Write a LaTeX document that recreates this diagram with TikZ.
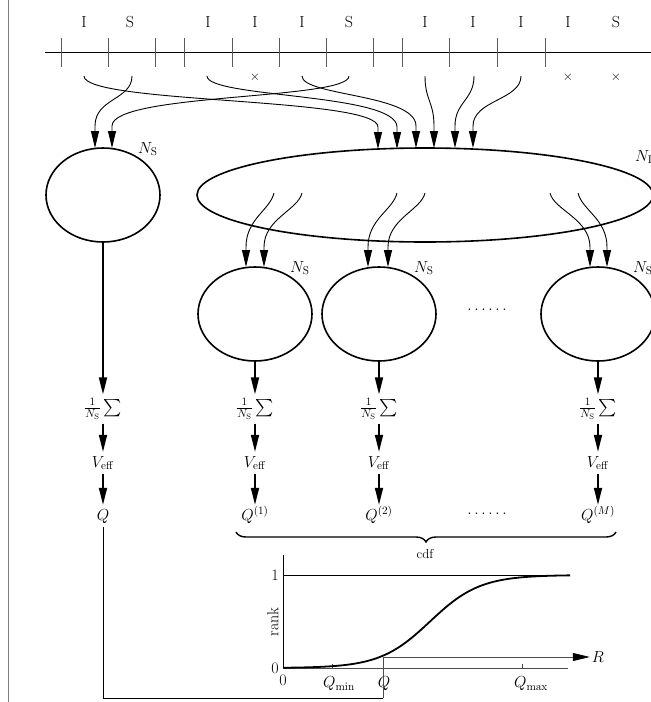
\RequirePackage{fix-cm}
\documentclass[tikz,border=0pt]{standalone}
\usepackage{exscale}
\usetikzlibrary{arrows.meta,shapes.geometric,decorations.pathreplacing,calc}
\begin{document}
\begin{tikzpicture}[x=1pt,y=-1pt,
  font=\fontsize{16}{19}\selectfont,
  ball/.style={ellipse, draw, line width=1.6pt, minimum width=114pt, minimum height=94pt, inner sep=0pt},
  conn/.style={line width=0.9pt, -{Triangle[length=17pt,width=8pt]}},
  flow/.style={line width=1.7pt, -{Triangle[length=17pt,width=8pt]}},
  tickline/.style={gray!70!black, line width=0.8pt},
  sumrow/.style={inner sep=4pt},
  vrow/.style={inner sep=4pt, text height=11pt, text depth=3pt},
  qrow/.style={inner sep=4pt, text height=11pt, text depth=3pt},
  nlab/.style={anchor=south west, inner sep=0.5pt},
  thinline/.style={gray!60!black, line width=0.7pt}]
\useasboundingbox (0,0) rectangle (651,702);
\clip (0,0) rectangle (651,702);

% left border
\draw[gray, line width=0.8pt] (8,0) -- (8,702);

% top axis with ticks and labels
\draw[line width=1pt] (45,52) -- (651,52);
\foreach \x in {61,108,155,184,232,279,326,373,402,449,497,545}
  \draw[tickline] (\x,38) -- (\x,67);
\foreach \x/\t [count=\i] in {84/I,130/S,208/I,255/I,302/I,349/S,425/I,473/I,521/I,568/I,616/S}
  \node (top\i) at (\x,22) {\t};
\foreach \x [count=\i] in {255,568,616}
  \node[font=\fontsize{13}{15}\selectfont] (cross\i) at (\x,77) {$\times$};

% sources below the axis
\coordinate (s1) at (84,76);
\coordinate (s2) at (132,76);
\coordinate (s3) at (207,76);
\coordinate (s4) at (302,76);
\coordinate (s5) at (349,76);
\coordinate (s6) at (425,76);
\coordinate (s7) at (474,76);
\coordinate (s8) at (521,76);

% ensembles
\node[ball] (c0) at (103,195) {};
\node[ellipse, draw, line width=1.6pt, minimum width=456pt, minimum height=94pt, inner sep=0pt] (big) at (425,195) {};
\node[ball] (c1) at (255,314) {};
\node[ball] (c2) at (379,314) {};
\node[ball] (c3) at (598,314) {};

\node[nlab] (n0) at (c0.48) {$N_{\rm S}$};
\node[nlab] (n1) at (c1.48) {$N_{\rm S}$};
\node[nlab] (n2) at (c2.48) {$N_{\rm S}$};
\node[nlab] (n3) at (c3.48) {$N_{\rm S}$};
\node[anchor=west, inner sep=0pt] (nbig) at (635,157) {$N_{\rm I}$};

% arrow tips on the ensembles
\coordinate (a0) at (95,148);
\coordinate (b0) at (112,148);
\coordinate (e1) at (378,149);
\coordinate (e2) at (397,149);
\coordinate (e3) at (416,148);
\coordinate (e4) at (434,148);
\coordinate (e5) at (455,148);
\coordinate (e6) at (473,148);

\draw[conn] (s1) .. controls +(0,28) and +(0,-30) .. ($(e1)+(0,-22)$) -- (e1);
\draw[conn] (s2) .. controls +(0,24) and +(0,-28) .. ($(a0)+(0,-22)$) -- (a0);
\draw[conn] (s3) .. controls +(0,22) and +(0,-34) .. ($(e2)+(0,-22)$) -- (e2);
\draw[conn] (s4) .. controls +(0,20) and +(0,-32) .. ($(e3)+(0,-22)$) -- (e3);
\draw[conn] (s5) .. controls +(0,24) and +(0,-33) .. ($(b0)+(0,-22)$) -- (b0);
\draw[conn] (s6) .. controls +(0,24) and +(0,-24) .. ($(e4)+(0,-22)$) -- (e4);
\draw[conn] (s7) .. controls +(0,24) and +(0,-24) .. ($(e5)+(0,-22)$) -- (e5);
\draw[conn] (s8) .. controls +(0,24) and +(0,-26) .. ($(e6)+(0,-22)$) -- (e6);

% inner draws from the big ensemble
\coordinate (i1) at (274,193);
\coordinate (i2) at (302,193);
\coordinate (i3) at (397,193);
\coordinate (i4) at (425,193);
\coordinate (i5) at (550,193);
\coordinate (i6) at (578,193);
\coordinate (t1) at (246,267);
\coordinate (t2) at (264,267);
\coordinate (t3) at (368,267);
\coordinate (t4) at (388,267);
\coordinate (t5) at (590,267);
\coordinate (t6) at (607,267);
\foreach \s/\t in {i1/t1,i2/t2,i3/t3,i4/t4}
  \draw[conn] (\s) .. controls +(-4,17) and +(0,-28) .. ($(\t)+(0,-20)$) -- (\t);
\foreach \s/\t in {i5/t5,i6/t6}
  \draw[conn] (\s) .. controls +(4,17) and +(0,-28) .. ($(\t)+(0,-20)$) -- (\t);

\node (dots1) at (487,310) {$\ldots\ldots$};

% columns
\foreach \i/\x/\q in {0/103/{Q},1/255/{Q^{(1)}},2/379/{Q^{(2)}},3/598/{Q^{(M)}}} {
  \node[sumrow] (sum\i) at (\x,409) {$\frac{1}{N_{\rm S}}\sum$};
  \node[vrow] (v\i) at (\x,463) {$V_{\rm eff}$};
  \node[qrow] (q\i) at (\x,516) {$\q$};
  \draw[flow] (c\i) -- (sum\i);
  \draw[flow] (sum\i) -- (v\i);
  \draw[flow] (v\i) -- (q\i);
}
\node (dots2) at (487,514) {$\ldots\ldots$};

% brace
\draw[decorate, decoration={brace, amplitude=10pt, mirror}, line width=1.4pt] (236,532) -- (616,532);
\node[font=\fontsize{13}{15}\selectfont] (cdf) at (425,554) {cdf};

% cumulative distribution plot
\draw[line width=1pt] (283,555) -- (283,668);
\draw[thinline] (283,668) -- (568,668);
\draw[line width=0.8pt] (283,575) -- (570,575);
\draw[thinline] (332,668) -- (332,664);
\draw[thinline] (522,668) -- (522,664);
\draw[line width=1.8pt] plot[domain=283:570, samples=90, smooth] (\x, {668-93/(1+exp(-(\x-430)/25))});
\node[inner sep=1pt] (one) at (275,575) {1};
\node[inner sep=1pt] (zeroa) at (275,668) {0};
\node[inner sep=1pt] (zerob) at (283,680) {0};
\node[rotate=90, inner sep=1pt] (rank) at (273,622) {rank};
\node[inner sep=1pt] (qmin) at (339,684) {$Q_{\min}$};
\node[inner sep=1pt] (qq) at (384,684) {$Q$};
\node[inner sep=1pt] (qmax) at (531,684) {$Q_{\max}$};
\node[inner sep=2pt] (rlab) at (598,657) {$R$};
\coordinate (qpt) at (383,657);
\coordinate (bl) at (103,698);
\coordinate (br) at (383,698);
\draw[thinline, -{Triangle[length=17pt,width=8pt,color=black]}] (qpt) -- (rlab);
\draw[line width=1pt] (q0) -- (bl) -- (br);
\draw[thinline] (br) -- (qpt);
\end{tikzpicture}
\end{document}
